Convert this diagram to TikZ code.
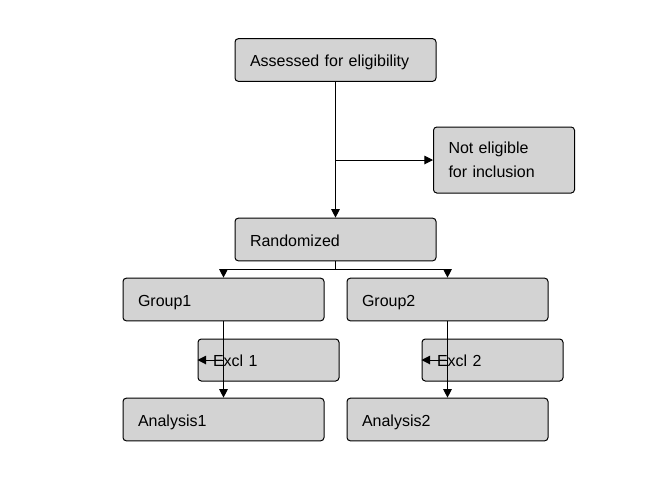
\documentclass[tikz,border=0pt]{standalone}
\usepackage{fontspec}
\setmainfont{Liberation Sans}
\usetikzlibrary{arrows.meta}
\begin{document}
\begin{tikzpicture}[x=0.75pt,y=-0.75pt,
  box/.style={draw=black, fill={rgb,255:red,211;green,211;blue,211}, rounded corners=2.5pt,
    line width=0.75pt, inner xsep=11.25pt, inner ysep=0pt, align=left,
    font=\fontsize{12}{18}\selectfont},
  widebox/.style={box, text width=128.25pt, minimum height=32pt, text height=12pt, text depth=2pt},
  smallbox/.style={box, text width=83.25pt, minimum height=31.5pt, text height=12pt, text depth=2pt},
  conn/.style={draw=black, line width=0.75pt, -{Triangle[length=6.5pt,width=6.5pt]}}]
\useasboundingbox (0,0) rectangle (672,480);
\node[widebox] (A) at (335.5,60) {Assessed for eligibility};
\node[box, text width=83.25pt, minimum height=49.5pt] (N) at (504,160) {Not eligible\\for inclusion};
\node[widebox] (R) at (335.5,239.5) {Randomized};
\node[widebox] (G1) at (223.5,299.5) {Group1};
\node[widebox] (G2) at (447.5,299.5) {Group2};
\node[smallbox] (E1) at (268.5,360) {Excl 1};
\node[smallbox] (E2) at (492.5,360) {Excl 2};
\node[widebox] (A1) at (223.5,419.5) {Analysis1};
\node[widebox] (A2) at (447.5,419.5) {Analysis2};
\draw[conn] (A.south) -- (R.north);
\draw[conn] (A.south |- N.west) -- (N.west);
\draw[conn] (R.south) -- ++(0,8) -| (G1.north);
\draw[conn] (R.south) -- ++(0,8) -| (G2.north);
\draw[conn] (G1.south) -- (A1.north);
\draw[conn] (G2.south) -- (A2.north);
\draw[conn] (G1.south |- E1.west) -- (E1.west);
\draw[conn] (G2.south |- E2.west) -- (E2.west);
\end{tikzpicture}
\end{document}
